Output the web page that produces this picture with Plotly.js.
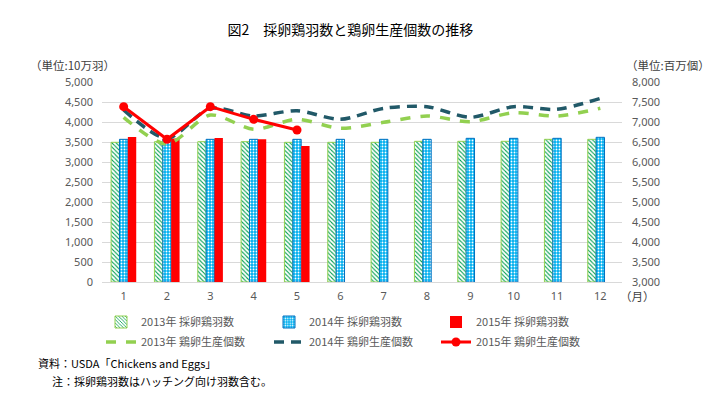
<!DOCTYPE html>
<html>
<head>
<meta charset="utf-8">
<script src="https://cdn.plot.ly/plotly-3.0.1.min.js"></script>
<style>html,body{margin:0;padding:0;background:#fff;}#chart{width:715px;height:396px;}</style>
</head>
<body>
<div id="chart"></div>
<script>
const months = ['1','2','3','4','5','6','7','8','9','10','11','12'];
const hens2013 = [3492, 3508, 3508, 3508, 3492, 3492, 3492, 3517, 3517, 3517, 3567, 3567];
const hens2014 = [3567, 3567, 3567, 3567, 3567, 3567, 3567, 3567, 3592, 3592, 3592, 3617];
const hens2015 = [3625, 3590, 3600, 3567, 3400];
const eggs2013 = [7117, 6450, 7175, 6817, 7067, 6842, 6992, 7150, 7008, 7233, 7150, 7342];
const eggs2014 = [7300, 6592, 7342, 7150, 7283, 7067, 7342, 7383, 7117, 7383, 7317, 7592];
const eggs2015 = [7383, 6567, 7383, 7067, 6800];
const leftTicks = [0,500,1000,1500,2000,2500,3000,3500,4000,4500,5000];
const rightTicks = [3000,3500,4000,4500,5000,5500,6000,6500,7000,7500,8000];

const jp = '"Noto Sans CJK JP", "Noto Sans", sans-serif';
const gray = '#595959';

const traces = [
  {type:'bar', x:months, y:hens2013, name:'2013年 採卵鶏羽数', legend:'legend',
   marker:{color:'#ffffff', line:{color:'#92d050', width:1},
     pattern:{shape:'\\', fgcolor:'#00a050', bgcolor:'#ffffff', size:3, solidity:0.35}}},
  {type:'bar', x:months, y:hens2014, name:'2014年 採卵鶏羽数', legend:'legend2',
   marker:{color:'#00b0f0', line:{color:'#0070c0', width:1},
     pattern:{shape:'.', fgcolor:'#ffffff', bgcolor:'#00b0f0', size:3, solidity:0.3}}},
  {type:'bar', x:months.slice(0,5), y:hens2015, name:'2015年 採卵鶏羽数', legend:'legend3',
   marker:{color:'#ff0000', line:{width:0}}},
  {type:'scatter', mode:'lines', x:months, y:eggs2013, yaxis:'y2', name:'2013年 鶏卵生産個数', legend:'legend4',
   line:{color:'#92d050', width:3.5, dash:'10px,10px', shape:'spline', smoothing:0.8}},
  {type:'scatter', mode:'lines', x:months, y:eggs2014, yaxis:'y2', name:'2014年 鶏卵生産個数', legend:'legend5',
   line:{color:'#215968', width:3.5, dash:'10px,7px', shape:'spline', smoothing:0.8}},
  {type:'scatter', mode:'lines+markers', x:months.slice(0,5), y:eggs2015, yaxis:'y2', name:'2015年 鶏卵生産個数', legend:'legend6',
   line:{color:'#ff0000', width:3}, marker:{color:'#ff0000', size:9}}
];

const legendFont = {family:jp, size:11, color:gray};
function leg(px, py) {
  return {orientation:'h', x:(px-102)/520, xanchor:'left', y:(282-py)/200, yanchor:'middle',
    xref:'paper', yref:'paper', font:legendFont, itemwidth:30, bgcolor:'rgba(0,0,0,0)', borderwidth:0};
}

const tickFont = {family:'"Noto Sans", sans-serif', size:11, color:gray};
const layout = {
  width:715, height:396,
  margin:{l:102, r:93, t:82, b:114, autoexpand:false},
  paper_bgcolor:'#ffffff', plot_bgcolor:'#ffffff',
  barmode:'group', bargap:0.42, bargroupgap:0,
  showlegend:true,
  font:{family:jp, color:gray},
  title:{text:'図2　採卵鶏羽数と鶏卵生産個数の推移', font:{family:jp, size:14, color:'#000000'},
    x:0.49, xanchor:'center', xref:'container', y:1-30/396, yanchor:'middle', yref:'container'},
  xaxis:{type:'category', range:[-0.5, 11.5], autorange:false, tickfont:tickFont, ticklabelstandoff:4, automargin:false,
    showgrid:false, showline:true, linecolor:'#d9d9d9', linewidth:1, ticks:'', fixedrange:true},
  yaxis:{range:[0,5000], tickvals:leftTicks, tickformat:',d', showgrid:true, gridcolor:'#d9d9d9', gridwidth:1,
    zeroline:false, tickfont:tickFont, ticklabelstandoff:8, automargin:false, ticks:'', fixedrange:true},
  yaxis2:{overlaying:'y', side:'right', range:[3000,8000], tickvals:rightTicks, tickformat:',d', showgrid:false,
    zeroline:false, tickfont:tickFont, ticklabelstandoff:9, automargin:false, ticks:'', fixedrange:true},
  legend:leg(101, 322), legend2:leg(269, 322), legend3:leg(436, 322),
  legend4:leg(101, 342), legend5:leg(269, 342), legend6:leg(436, 342),
  annotations:[
    {text:'（単位:10万羽）', xref:'paper', yref:'paper', x:(28-102)/520, xanchor:'left', y:(282-65)/200, yanchor:'middle',
     showarrow:false, font:{family:jp, size:11.5, color:'#404040'}},
    {text:'（単位:百万個）', xref:'paper', yref:'paper', x:(712-102)/520, xanchor:'right', y:(282-65)/200, yanchor:'middle',
     showarrow:false, font:{family:jp, size:11.5, color:'#404040'}},
    {text:'（月）', xref:'paper', yref:'paper', x:(618-102)/520, xanchor:'left', y:(282-296)/200, yanchor:'middle',
     showarrow:false, font:{family:jp, size:11.5, color:'#404040'}},
    {text:'資料：USDA「Chickens and Eggs」', xref:'paper', yref:'paper', x:(36-102)/520, xanchor:'left', y:(282-363)/200, yanchor:'middle',
     showarrow:false, font:{family:jp, size:11, color:'#000000'}},
    {text:'注：採卵鶏羽数はハッチング向け羽数含む。', xref:'paper', yref:'paper', x:(50-102)/520, xanchor:'left', y:(282-381)/200, yanchor:'middle',
     showarrow:false, font:{family:jp, size:11, color:'#000000'}}
  ]
};

Plotly.newPlot('chart', traces, layout, {displayModeBar:false, staticPlot:true});
</script>
</body>
</html>
